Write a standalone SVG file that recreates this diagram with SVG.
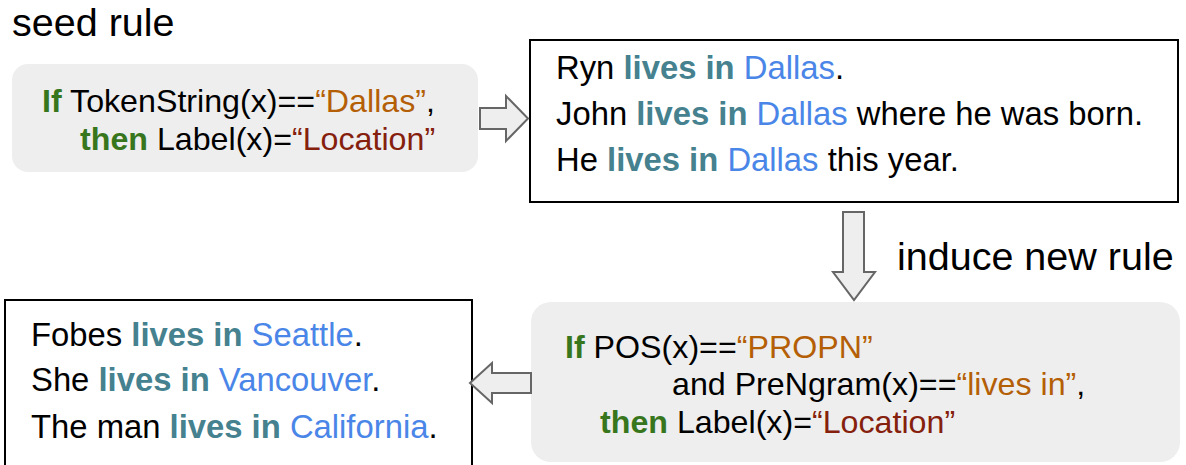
<svg xmlns="http://www.w3.org/2000/svg" width="1186" height="465" viewBox="0 0 1186 465">
  <defs>
    <style>
      text { font-family: "Liberation Sans", Arial, sans-serif; font-size: 32.8px; fill: #000; }
      .title { font-size: 39.5px; }
      .code { font-size: 32.2px; }
      .kw { font-weight: bold; fill: #38761d; }
      .lit { fill: #b45f06; }
      .lab { fill: #85200c; }
      .pat { font-weight: bold; fill: #45818e; }
      .loc { fill: #4a86e8; }
      .rule { fill: #eeeeee; stroke: none; }
      .sents { fill: #ffffff; stroke: #000; stroke-width: 2; }
      .blk { fill: #eeeeee; stroke: #666666; stroke-width: 2; stroke-linejoin: miter; }
    </style>
  </defs>
  <rect width="1186" height="465" fill="#ffffff"/>

  <text class="title" x="12" y="36">seed rule</text>

  <!-- seed rule -->
  <g id="seed-rule">
    <rect class="rule" x="12" y="64" width="466" height="108" rx="16"/>
    <text class="code" x="42" y="112"><tspan class="kw">If</tspan> TokenString(x)==<tspan class="lit">“Dallas”</tspan>,</text>
    <text class="code" x="80" y="150"><tspan class="kw">then</tspan> Label(x)=<tspan class="lab">“Location”</tspan></text>
  </g>

  <!-- sentences matched by the seed rule -->
  <g id="seed-matches">
    <rect class="sents" x="530" y="40" width="648" height="162"/>
    <text x="556" y="79">Ryn <tspan class="pat">lives in</tspan> <tspan class="loc">Dallas</tspan>.</text>
    <text x="556" y="125">John <tspan class="pat">lives in</tspan> <tspan class="loc">Dallas</tspan> where he was born.</text>
    <text x="556" y="171">He <tspan class="pat">lives in</tspan> <tspan class="loc">Dallas</tspan> this year.</text>
  </g>

  <!-- induced rule -->
  <g id="induced-rule">
    <rect class="rule" x="531" y="302" width="649" height="160" rx="20"/>
    <text class="code" x="565" y="358"><tspan class="kw">If</tspan> POS(x)==<tspan class="lit">“PROPN”</tspan></text>
    <text class="code" x="672" y="395">and PreNgram(x)==<tspan class="lit">“lives in”</tspan>,</text>
    <text class="code" x="600" y="433"><tspan class="kw">then</tspan> Label(x)=<tspan class="lab">“Location”</tspan></text>
  </g>

  <!-- sentences matched by the induced rule -->
  <g id="new-matches">
    <rect class="sents" x="5" y="300" width="467" height="170"/>
    <text x="31" y="346">Fobes <tspan class="pat">lives in</tspan> <tspan class="loc">Seattle</tspan>.</text>
    <text x="31" y="391">She <tspan class="pat">lives in</tspan> <tspan class="loc">Vancouver</tspan>.</text>
    <text x="31" y="438">The man <tspan class="pat">lives in</tspan> <tspan class="loc">California</tspan>.</text>
  </g>

  <!-- block arrows -->
  <g id="connectors">
    <path class="blk" d="M480,108 H506 V96 L528,118.5 L506,141 V129 H480 Z"/>
    <path class="blk" d="M843,212 H864 V272 H875 L854,300 L833,272 H843 Z"/>
    <text class="title" x="897" y="270">induce new rule</text>
    <path class="blk" d="M531,373 H492 V363 L470,383 L492,403 V393 H531 Z"/>
  </g>
</svg>
